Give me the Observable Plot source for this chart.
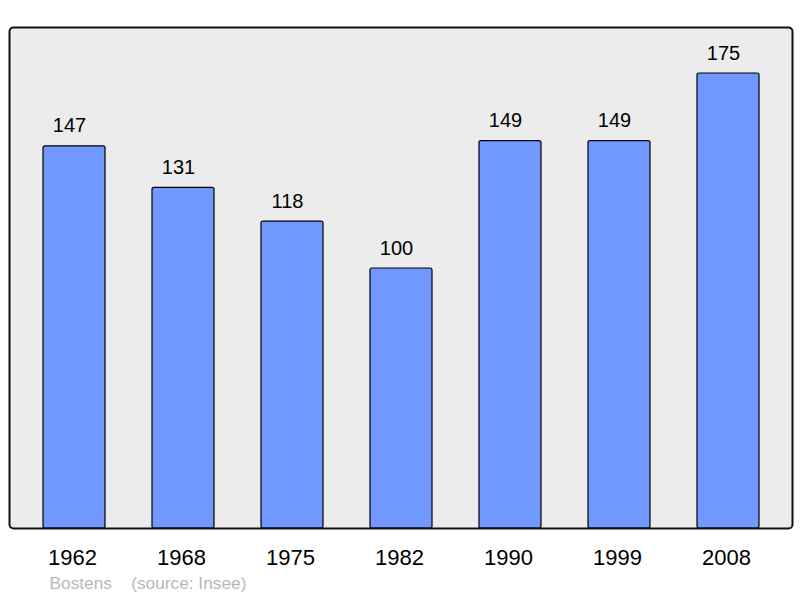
<!DOCTYPE html>
<html>
<head>
<meta charset="utf-8">
<script src="https://cdn.jsdelivr.net/npm/d3@7"></script>
<script src="https://cdn.jsdelivr.net/npm/@observablehq/plot@0.6"></script>
<style>
  html, body { margin: 0; padding: 0; background: #fff; }
  svg text { white-space: pre; }
</style>
</head>
<body>
<div id="chart"></div>
<script>
const years = ["1962", "1968", "1975", "1982", "1990", "1999", "2008"];
const population = [147, 131, 118, 100, 149, 149, 175];
const captionText = ["Bostens    (source: Insee)"];

const data = years.map((y, i) => ({year: y, value: population[i]}));

const chart = Plot.plot({
  width: 800,
  height: 598,
  marginTop: 27,
  marginBottom: 70,
  marginLeft: 9,
  marginRight: 8,
  style: {fontFamily: "'Liberation Sans', Arial, sans-serif", background: "#fff", overflow: "visible"},
  x: {domain: years, range: [18.6, 784.4], paddingInner: 0.428, paddingOuter: 0.214, label: null},
  y: {domain: [0, 192.7], axis: null},
  marks: [
    Plot.frame({fill: "#ececec", stroke: "none", rx: 4}),
    Plot.barY(data, {x: "year", y: "value", fill: "#7098ff", stroke: "#000", strokeWidth: 1.2, rx: 2}),
    Plot.frame({stroke: "#111", strokeWidth: 2, rx: 4}),
    Plot.text(data, {x: "year", y: "value", text: d => String(d.value), lineAnchor: "bottom", dy: -14, dx: -5, fontSize: 20, fill: "#000"}),
    Plot.axisX({tickSize: 0, tickPadding: 21, fontSize: 22, fill: "#000", dx: -2, label: null}),
    Plot.text(captionText, {frameAnchor: "bottom-left", textAnchor: "start", lineAnchor: "bottom", dx: 40, dy: 60, fontSize: 17.3, fill: "#b8b8b8"})
  ]
});
document.getElementById("chart").appendChild(chart);
</script>
</body>
</html>
